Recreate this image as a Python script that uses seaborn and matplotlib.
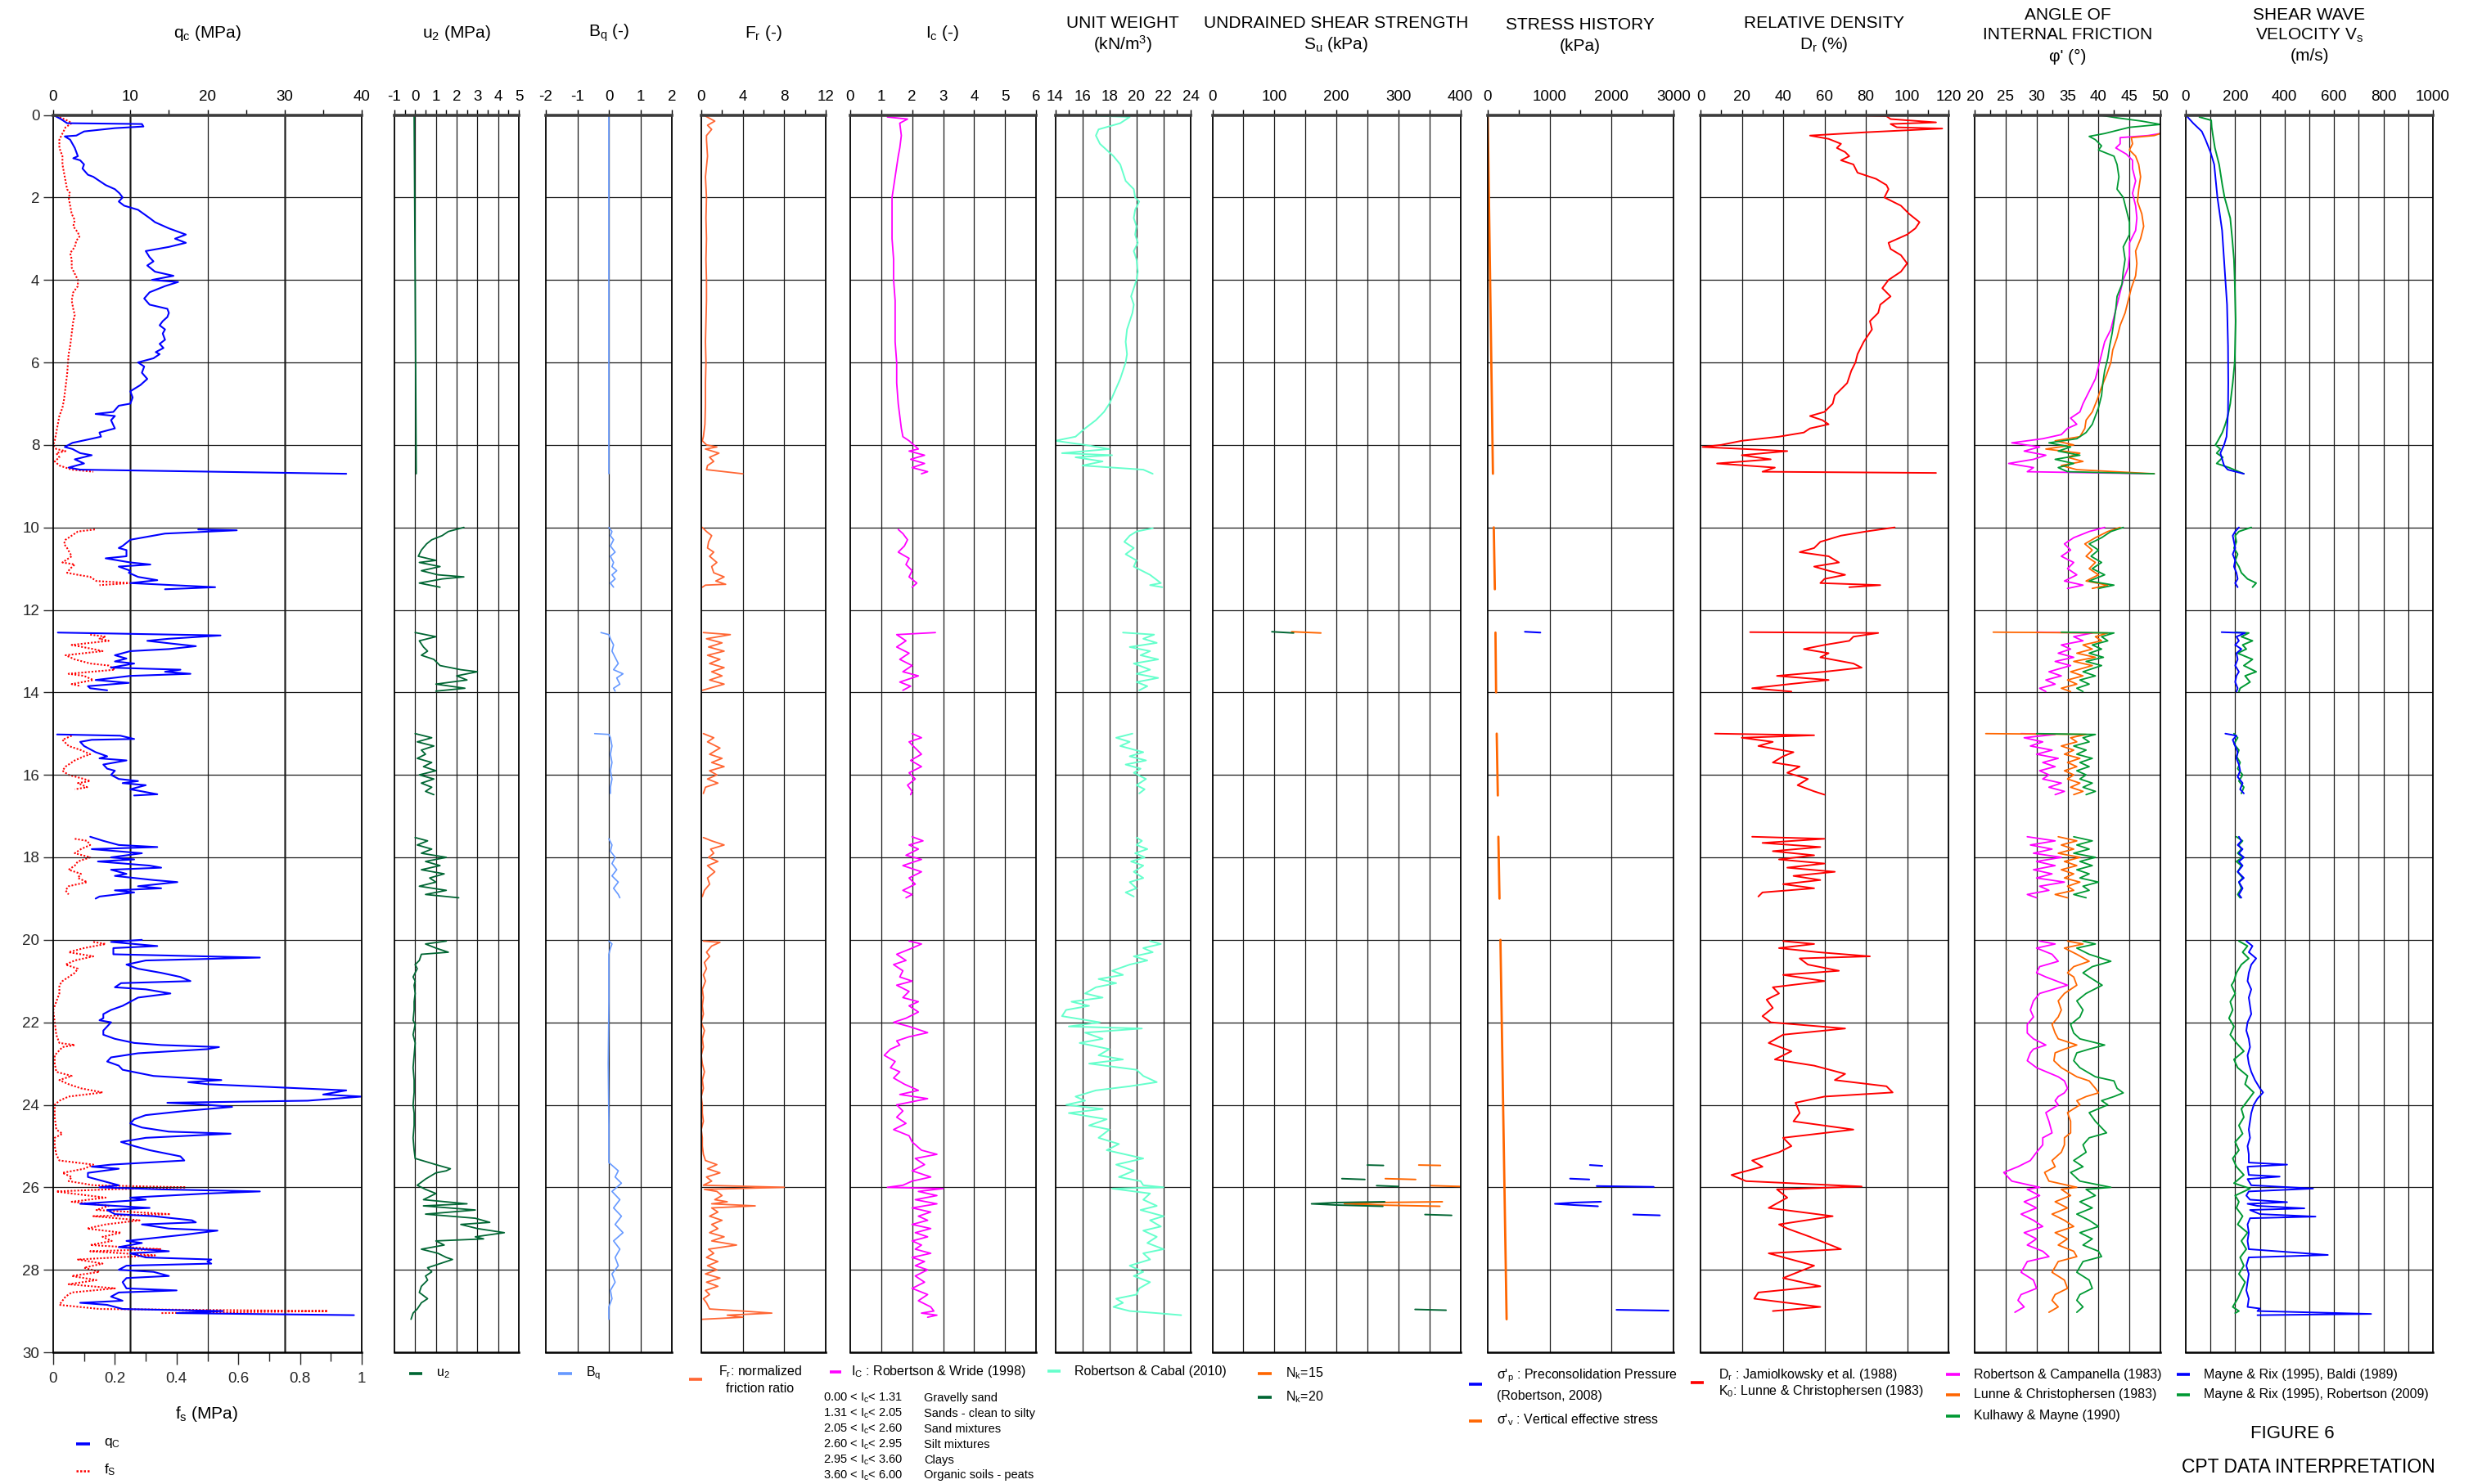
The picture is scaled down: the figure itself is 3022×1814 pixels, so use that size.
import matplotlib
matplotlib.use("Agg")
import matplotlib.pyplot as plt
from matplotlib.ticker import MultipleLocator
from matplotlib.lines import Line2D
import pandas as pd
import seaborn as sns

# ---------------------------------------------------------------- data
# every series is a list of depth segments, each a list of (depth m, value)

qc_mpa = [
    [(0.0, 0.0), (0.1, 1.0), (0.2, 1.8), (0.22, 11.5), (0.28, 11.7), (0.32, 8.0), (0.4, 4.0), (0.5, 3.0),
     (0.52, 1.5), (0.6, 2.2), (0.8, 2.8), (1.0, 3.2), (1.05, 2.6), (1.1, 3.5), (1.2, 4.0), (1.3, 3.8),
     (1.45, 4.5), (1.5, 5.2), (1.6, 6.0), (1.7, 6.8), (1.8, 8.0), (1.9, 8.6), (2.0, 9.0), (2.1, 8.5),
     (2.2, 9.2), (2.3, 11.0), (2.5, 12.5), (2.6, 13.2), (2.75, 15.0), (2.9, 17.2), (3.0, 15.8), (3.1, 17.2),
     (3.2, 15.0), (3.3, 12.0), (3.45, 12.5), (3.55, 13.0), (3.65, 12.2), (3.8, 13.2), (3.9, 15.6), (4.0, 12.8),
     (4.05, 16.2), (4.15, 14.5), (4.3, 12.5), (4.45, 11.8), (4.6, 12.5), (4.7, 14.8), (4.8, 15.0), (4.9, 14.8),
     (5.0, 14.2), (5.1, 13.8), (5.2, 14.5), (5.3, 14.2), (5.45, 14.5), (5.55, 13.8), (5.65, 14.3), (5.75, 13.3),
     (5.8, 13.8), (5.9, 13.0), (6.0, 11.0), (6.1, 11.8), (6.25, 11.5), (6.4, 12.2), (6.55, 11.3), (6.7, 10.0),
     (6.85, 10.3), (7.0, 10.0), (7.05, 8.5), (7.2, 7.8), (7.25, 5.5), (7.3, 8.0), (7.4, 7.5), (7.6, 8.0),
     (7.7, 6.0), (7.8, 6.2), (7.85, 5.0), (7.95, 2.5), (8.05, 1.5), (8.1, 2.5), (8.2, 3.5), (8.25, 5.0),
     (8.35, 2.8), (8.45, 4.0), (8.55, 2.0), (8.6, 3.5), (8.7, 38.0)],
    [(10.05, 18.8), (10.07, 23.8), (10.12, 18.0), (10.15, 14.5), (10.3, 10.0), (10.45, 9.0), (10.5, 8.5),
     (10.55, 9.5), (10.7, 9.5), (10.75, 6.8), (10.85, 10.0), (10.9, 12.6), (10.95, 8.5), (11.05, 10.0),
     (11.1, 9.8), (11.2, 11.0), (11.28, 13.5), (11.35, 10.0), (11.45, 21.0), (11.5, 14.5)],
    [(12.55, 0.6), (12.62, 21.7), (12.7, 15.0), (12.75, 12.2), (12.82, 15.5), (12.88, 18.5), (12.95, 15.0),
     (13.0, 10.0), (13.1, 8.0), (13.18, 9.5), (13.25, 8.0), (13.3, 10.5), (13.4, 7.5), (13.45, 16.5),
     (13.5, 14.5), (13.55, 17.8), (13.6, 10.0), (13.7, 5.5), (13.77, 9.8), (13.85, 4.5), (13.9, 4.8), (13.95, 7.0)],
    [(15.02, 0.5), (15.05, 8.7), (15.13, 10.5), (15.15, 5.0), (15.2, 3.5), (15.3, 4.0), (15.45, 5.5),
     (15.55, 7.0), (15.6, 6.0), (15.65, 9.5), (15.75, 6.5), (15.85, 7.0), (15.9, 8.0), (16.0, 7.5),
     (16.1, 8.5), (16.15, 11.0), (16.2, 9.0), (16.25, 12.0), (16.35, 10.0), (16.4, 11.5), (16.47, 13.5), (16.5, 10.5)],
    [(17.5, 4.8), (17.6, 6.5), (17.7, 8.5), (17.75, 13.5), (17.8, 5.0), (17.9, 11.5), (18.0, 7.5), (18.05, 10.5),
     (18.1, 5.8), (18.2, 12.5), (18.25, 14.0), (18.3, 7.5), (18.4, 9.5), (18.45, 8.0), (18.55, 13.0), (18.6, 16.1),
     (18.7, 11.0), (18.75, 14.0), (18.8, 8.0), (18.85, 10.5), (18.95, 6.0), (19.0, 5.5)],
    [(20.0, 11.5), (20.05, 7.5), (20.15, 13.5), (20.2, 7.8), (20.35, 7.8), (20.43, 26.8), (20.5, 12.0),
     (20.6, 9.5), (20.7, 11.0), (20.8, 14.0), (20.9, 16.5), (21.0, 17.8), (21.05, 8.8), (21.15, 8.0),
     (21.2, 12.0), (21.3, 15.2), (21.4, 11.0), (21.5, 10.0), (21.6, 9.0), (21.7, 7.5), (21.8, 6.5), (21.9, 6.5),
     (21.95, 6.0), (22.0, 7.5), (22.1, 7.0), (22.2, 6.5), (22.3, 6.5), (22.4, 8.0), (22.5, 10.5), (22.55, 14.0),
     (22.6, 21.5), (22.65, 20.0), (22.75, 11.0), (22.85, 7.5), (22.95, 7.0), (23.05, 8.5), (23.15, 9.0),
     (23.3, 13.0), (23.4, 21.8), (23.45, 17.5), (23.5, 20.0), (23.6, 32.0), (23.65, 38.0), (23.75, 35.0),
     (23.8, 40.0), (23.9, 33.0), (23.95, 14.8), (24.0, 20.0), (24.05, 23.2), (24.15, 17.0), (24.25, 12.0),
     (24.35, 10.5), (24.45, 10.0), (24.55, 11.5), (24.65, 15.0), (24.7, 23.0), (24.8, 12.0), (24.9, 8.8),
     (25.0, 10.5), (25.1, 12.5), (25.25, 16.5), (25.35, 17.0), (25.45, 7.5), (25.5, 5.0), (25.55, 8.5),
     (25.65, 4.5), (25.75, 4.5), (25.85, 6.5), (25.95, 8.5), (26.0, 6.0), (26.05, 14.0), (26.1, 26.8),
     (26.15, 20.0), (26.25, 10.0), (26.3, 12.0), (26.4, 3.5), (26.5, 12.5), (26.55, 7.0), (26.65, 8.0),
     (26.7, 13.0), (26.8, 18.0), (26.85, 18.5), (26.9, 11.5), (27.0, 15.0), (27.05, 21.3), (27.15, 17.0),
     (27.3, 9.5), (27.35, 11.5), (27.45, 8.5), (27.55, 15.0), (27.6, 10.0), (27.7, 12.0), (27.75, 20.5),
     (27.8, 20.0), (27.85, 20.5), (27.9, 9.5), (28.0, 8.5), (28.05, 13.0), (28.15, 15.0), (28.2, 9.5),
     (28.3, 9.0), (28.45, 9.5), (28.5, 16.0), (28.55, 8.5), (28.65, 7.5), (28.75, 9.0), (28.8, 3.5),
     (28.85, 7.0), (28.95, 9.0), (29.0, 22.0), (29.05, 16.0), (29.1, 39.0)],
]

fs_mpa = [
    [(0.0, 0.0), (0.05, 0.02), (0.15, 0.05), (0.2, 0.06), (0.3, 0.04), (0.45, 0.03), (0.6, 0.02), (0.8, 0.02),
     (1.0, 0.03), (1.2, 0.03), (1.4, 0.035), (1.6, 0.04), (1.8, 0.045), (1.9, 0.055), (2.0, 0.05), (2.2, 0.055),
     (2.4, 0.06), (2.55, 0.07), (2.7, 0.065), (2.85, 0.08), (2.95, 0.085), (3.05, 0.075), (3.2, 0.07),
     (3.35, 0.055), (3.5, 0.06), (3.7, 0.06), (3.85, 0.07), (4.0, 0.08), (4.15, 0.08), (4.3, 0.065), (4.5, 0.06),
     (4.7, 0.065), (4.85, 0.07), (5.0, 0.065), (5.3, 0.06), (5.6, 0.055), (5.8, 0.05), (6.0, 0.048),
     (6.3, 0.045), (6.6, 0.04), (6.9, 0.035), (7.1, 0.03), (7.3, 0.02), (7.5, 0.015), (7.7, 0.01), (7.9, 0.005),
     (8.0, 0.0), (8.1, 0.01), (8.15, 0.04), (8.2, 0.01), (8.3, 0.02), (8.4, 0.005), (8.5, 0.02), (8.6, 0.06),
     (8.65, 0.13)],
    [(10.05, 0.135), (10.1, 0.08), (10.2, 0.06), (10.3, 0.04), (10.4, 0.035), (10.5, 0.045), (10.7, 0.06),
     (10.85, 0.03), (10.9, 0.07), (11.0, 0.055), (11.1, 0.045), (11.15, 0.08), (11.2, 0.12), (11.3, 0.14),
     (11.35, 0.25), (11.4, 0.15)],
    [(12.6, 0.12), (12.65, 0.17), (12.7, 0.15), (12.75, 0.18), (12.85, 0.06), (12.95, 0.13), (13.0, 0.16),
     (13.1, 0.04), (13.2, 0.07), (13.3, 0.12), (13.35, 0.18), (13.45, 0.20), (13.55, 0.05), (13.6, 0.10),
     (13.7, 0.13), (13.8, 0.06), (13.85, 0.09)],
    [(15.05, 0.06), (15.15, 0.03), (15.3, 0.05), (15.4, 0.09), (15.5, 0.12), (15.55, 0.10), (15.65, 0.07),
     (15.8, 0.04), (15.9, 0.03), (16.0, 0.05), (16.1, 0.10), (16.15, 0.12), (16.2, 0.08), (16.3, 0.11), (16.35, 0.07)],
    [(17.55, 0.07), (17.6, 0.11), (17.7, 0.12), (17.8, 0.09), (17.9, 0.07), (18.0, 0.12), (18.1, 0.08),
     (18.2, 0.07), (18.3, 0.05), (18.4, 0.09), (18.5, 0.08), (18.6, 0.11), (18.7, 0.05), (18.8, 0.04), (18.9, 0.05)],
    [(20.05, 0.13), (20.1, 0.17), (20.2, 0.10), (20.3, 0.05), (20.4, 0.13), (20.5, 0.07), (20.6, 0.04),
     (20.7, 0.08), (20.8, 0.07), (21.0, 0.03), (21.1, 0.02), (21.3, 0.02), (21.5, 0.01), (21.7, 0.0),
     (22.0, 0.005), (22.3, 0.01), (22.5, 0.02), (22.55, 0.07), (22.6, 0.03), (22.8, 0.005), (23.0, 0.005),
     (23.2, 0.01), (23.3, 0.06), (23.4, 0.02), (23.5, 0.05), (23.6, 0.09), (23.7, 0.16), (23.8, 0.05),
     (23.9, 0.02), (24.0, 0.005), (24.3, 0.005), (24.6, 0.01), (24.7, 0.03), (24.8, 0.005), (25.0, 0.005),
     (25.2, 0.01), (25.35, 0.02), (25.45, 0.13), (25.55, 0.10), (25.65, 0.03), (25.75, 0.06), (25.85, 0.05),
     (25.95, 0.13), (26.0, 0.43), (26.05, 0.18), (26.1, 0.01), (26.15, 0.06), (26.25, 0.17), (26.35, 0.06),
     (26.45, 0.18), (26.55, 0.14), (26.65, 0.38), (26.7, 0.13), (26.8, 0.28), (26.9, 0.17), (27.0, 0.11),
     (27.1, 0.22), (27.2, 0.16), (27.3, 0.19), (27.4, 0.12), (27.5, 0.35), (27.55, 0.12), (27.65, 0.33),
     (27.75, 0.08), (27.85, 0.16), (27.95, 0.10), (28.05, 0.15), (28.15, 0.06), (28.25, 0.14), (28.35, 0.05),
     (28.45, 0.20), (28.55, 0.06), (28.65, 0.04), (28.75, 0.03), (28.85, 0.02), (28.95, 0.15), (29.0, 0.89),
     (29.05, 0.35)],
]

u2_mpa = [
    [(0.0, -0.05), (4.0, 0.0), (8.7, 0.05)],
    [(10.0, 2.35), (10.1, 1.6), (10.2, 1.3), (10.3, 0.8), (10.4, 0.55), (10.55, 0.3), (10.7, 0.15), (10.8, 1.0),
     (10.85, 0.2), (10.95, 1.2), (11.05, 0.3), (11.15, 1.1), (11.2, 2.35), (11.25, 1.3), (11.35, 0.2), (11.45, 1.2)],
    [(12.55, 0.0), (12.65, 1.0), (12.75, 0.2), (12.9, 0.4), (13.0, 0.6), (13.1, 0.3), (13.2, 0.9), (13.35, 1.2),
     (13.45, 2.2), (13.5, 3.0), (13.6, 2.0), (13.7, 2.5), (13.8, 1.0), (13.9, 2.4), (13.97, 1.0)],
    [(15.0, 0.0), (15.1, 0.8), (15.2, 0.1), (15.3, 0.9), (15.4, 0.3), (15.5, 0.5), (15.6, 0.1), (15.7, 0.8),
     (15.8, 0.4), (15.9, 1.0), (16.0, 0.2), (16.1, 0.9), (16.2, 0.3), (16.3, 0.8), (16.4, 0.5), (16.48, 0.9)],
    [(17.52, 0.0), (17.6, 0.6), (17.7, 0.1), (17.8, 0.8), (17.9, 0.3), (18.0, 1.5), (18.1, 0.5), (18.2, 1.2),
     (18.3, 0.3), (18.4, 1.4), (18.5, 0.7), (18.6, 1.0), (18.7, 0.2), (18.8, 1.5), (18.9, 0.5), (18.98, 2.1)],
    [(20.03, 1.5), (20.1, 0.5), (20.2, 1.0), (20.3, 1.6), (20.35, 0.3), (20.5, 0.2), (20.6, 0.0), (20.7, 0.1),
     (20.9, -0.1), (21.0, 0.0), (21.1, -0.05), (21.3, 0.0), (21.5, -0.05), (21.7, -0.05), (21.95, -0.1),
     (22.05, 0.0), (22.3, -0.1), (22.5, 0.0), (22.8, -0.05), (23.1, -0.1), (23.4, -0.05), (23.7, -0.05),
     (24.0, -0.1), (24.2, -0.05), (24.5, -0.05), (24.8, -0.1), (25.1, -0.05), (25.3, 0.0), (25.45, 1.0),
     (25.55, 1.7), (25.6, 1.5), (25.65, 1.0), (25.8, 0.5), (25.95, 0.1), (26.05, 0.5), (26.15, 1.0),
     (26.3, 0.4), (26.4, 2.5), (26.45, 0.4), (26.55, 2.9), (26.65, 0.5), (26.75, 2.9), (26.85, 3.6),
     (26.9, 2.2), (27.0, 3.0), (27.1, 4.3), (27.2, 2.9), (27.25, 3.3), (27.3, 1.0), (27.4, 1.4), (27.5, 0.3),
     (27.6, 1.1), (27.7, 1.5), (27.75, 1.8), (27.85, 1.2), (27.95, 0.6), (28.05, 0.8), (28.15, 0.5),
     (28.25, 0.6), (28.4, 0.3), (28.55, 0.2), (28.7, 0.6), (28.8, 0.3), (28.95, 0.1), (29.05, -0.1), (29.2, -0.2)],
]

bq = [
    [(0.0, 0.0), (8.7, 0.0)],
    [(10.0, 0.0), (10.1, 0.1), (10.2, 0.05), (10.3, 0.15), (10.45, 0.05), (10.6, 0.2), (10.7, 0.05),
     (10.85, 0.15), (10.95, 0.1), (11.05, 0.25), (11.15, 0.1), (11.25, 0.2), (11.35, 0.05), (11.45, 0.15)],
    [(12.55, -0.25), (12.6, 0.0), (12.7, 0.05), (12.85, 0.15), (13.0, 0.1), (13.15, 0.2), (13.3, 0.3),
     (13.45, 0.15), (13.55, 0.45), (13.65, 0.25), (13.8, 0.35), (13.9, 0.15), (13.97, 0.2)],
    [(15.0, -0.45), (15.02, 0.0), (15.1, 0.05), (15.3, 0.1), (15.5, 0.05), (15.7, 0.1), (15.9, 0.05),
     (16.1, 0.1), (16.3, 0.05), (16.45, 0.05)],
    [(17.55, 0.0), (17.7, 0.1), (17.85, 0.05), (18.0, 0.2), (18.15, 0.1), (18.3, 0.25), (18.45, 0.1),
     (18.6, 0.3), (18.75, 0.15), (18.9, 0.3), (18.98, 0.35)],
    [(20.03, 0.0), (20.1, 0.1), (20.2, 0.05), (20.35, 0.0), (21.5, 0.0), (23.0, -0.02), (24.5, 0.0),
     (25.4, 0.0), (25.5, 0.15), (25.6, 0.3), (25.75, 0.2), (25.9, 0.4), (26.1, 0.1), (26.3, 0.35),
     (26.5, 0.15), (26.7, 0.4), (26.9, 0.2), (27.1, 0.45), (27.3, 0.15), (27.5, 0.35), (27.7, 0.2),
     (27.9, 0.3), (28.1, 0.1), (28.3, 0.2), (28.5, 0.05), (28.7, 0.1), (28.9, 0.0), (29.2, 0.0)],
]

fr = [
    [(0.0, 0.2), (0.15, 1.3), (0.25, 0.6), (0.35, 1.0), (0.5, 0.5), (0.6, 0.5), (1.0, 0.6), (1.5, 0.4),
     (2.0, 0.5), (2.5, 0.45), (3.0, 0.5), (3.5, 0.45), (4.0, 0.5), (4.5, 0.5), (5.0, 0.45), (5.5, 0.4),
     (6.0, 0.45), (6.5, 0.4), (7.0, 0.4), (7.5, 0.35), (7.8, 0.2), (7.9, 0.1), (8.0, 0.5), (8.05, 1.5),
     (8.1, 0.4), (8.2, 1.7), (8.3, 0.8), (8.4, 1.2), (8.5, 0.6), (8.6, 0.5), (8.7, 4.0)],
    [(10.0, 0.1), (10.1, 0.5), (10.2, 1.0), (10.35, 0.7), (10.5, 0.6), (10.6, 1.2), (10.7, 0.8), (10.85, 1.5),
     (10.95, 1.0), (11.1, 1.2), (11.2, 2.2), (11.3, 1.4), (11.38, 2.35), (11.4, 0.4), (11.45, 0.1)],
    [(12.55, 0.2), (12.6, 2.8), (12.7, 0.5), (12.8, 2.0), (12.9, 0.7), (13.0, 2.2), (13.1, 0.6), (13.2, 1.8),
     (13.3, 0.8), (13.4, 2.2), (13.5, 1.0), (13.6, 2.0), (13.7, 0.8), (13.8, 2.2), (13.95, 0.1)],
    [(15.0, 0.2), (15.1, 1.2), (15.2, 0.6), (15.35, 1.8), (15.5, 0.8), (15.6, 2.0), (15.7, 1.0), (15.8, 2.2),
     (15.9, 0.8), (16.0, 1.5), (16.1, 0.6), (16.2, 1.6), (16.3, 0.4), (16.45, 0.2)],
    [(17.52, 0.2), (17.6, 1.0), (17.7, 2.2), (17.8, 0.9), (17.9, 1.2), (18.0, 0.7), (18.1, 1.6), (18.2, 0.6),
     (18.35, 1.3), (18.5, 0.6), (18.65, 0.8), (18.8, 0.3), (18.95, 0.1)],
    [(20.03, 0.2), (20.06, 1.8), (20.15, 1.0), (20.3, 0.5), (20.4, 0.8), (20.55, 0.3), (20.7, 0.5),
     (20.85, 0.2), (21.0, 0.4), (21.2, 0.1), (21.4, 0.2), (21.6, 0.1), (21.8, 0.2), (22.0, 0.0), (22.2, 0.3),
     (22.4, 0.1), (22.6, 0.2), (22.8, 0.0), (23.0, 0.1), (23.2, 0.3), (23.4, 0.1), (23.6, 0.2), (23.8, 0.0),
     (24.0, 0.1), (24.2, 0.1), (24.4, 0.2), (24.6, 0.0), (24.8, 0.1), (25.0, 0.1), (25.2, 0.2), (25.35, 0.4),
     (25.45, 1.5), (25.55, 0.6), (25.65, 1.8), (25.75, 0.5), (25.85, 1.0), (25.95, 0.2), (26.0, 8.0),
     (26.05, 0.3), (26.1, 1.5), (26.2, 2.0), (26.3, 1.3), (26.35, 2.5), (26.4, 1.0), (26.45, 5.2), (26.5, 1.0),
     (26.6, 1.6), (26.7, 0.8), (26.8, 2.0), (26.9, 1.0), (27.0, 1.6), (27.1, 0.8), (27.2, 2.2), (27.3, 1.0),
     (27.4, 3.4), (27.5, 0.7), (27.6, 1.2), (27.7, 0.5), (27.8, 1.6), (27.9, 0.6), (28.0, 1.5), (28.1, 0.4),
     (28.2, 1.8), (28.3, 0.5), (28.4, 1.6), (28.5, 0.4), (28.6, 0.8), (28.7, 0.2), (28.8, 0.5), (28.95, 0.8),
     (29.0, 4.0), (29.05, 6.8), (29.1, 2.5), (29.15, 4.0), (29.2, 0.1)],
]

ic = [
    [(0.05, 1.2), (0.1, 1.85), (0.2, 1.6), (0.5, 1.65), (0.8, 1.6), (1.0, 1.55), (1.5, 1.45), (2.0, 1.35),
     (2.5, 1.35), (3.0, 1.35), (3.5, 1.4), (4.0, 1.4), (4.5, 1.45), (5.0, 1.45), (5.5, 1.45), (6.0, 1.5),
     (6.5, 1.5), (7.0, 1.55), (7.3, 1.6), (7.6, 1.65), (7.8, 1.7), (7.9, 1.9), (8.0, 2.05), (8.1, 2.2),
     (8.15, 1.9), (8.25, 2.4), (8.35, 1.95), (8.45, 2.4), (8.55, 2.0), (8.65, 2.5), (8.7, 2.3)],
    [(10.05, 1.55), (10.15, 1.7), (10.3, 1.85), (10.45, 1.75), (10.6, 1.55), (10.75, 1.9), (10.9, 1.8),
     (11.05, 2.0), (11.2, 1.9), (11.35, 2.15), (11.45, 2.0)],
    [(12.55, 2.75), (12.6, 1.5), (12.75, 1.8), (12.9, 1.5), (13.05, 1.9), (13.2, 1.6), (13.35, 2.0),
     (13.5, 1.7), (13.6, 2.2), (13.75, 1.6), (13.85, 1.95), (13.95, 1.7)],
    [(15.0, 2.0), (15.1, 2.3), (15.2, 1.9), (15.35, 2.1), (15.5, 2.3), (15.65, 1.95), (15.8, 2.3),
     (15.95, 1.9), (16.1, 2.1), (16.25, 1.85), (16.4, 2.0), (16.48, 1.95)],
    [(17.5, 2.0), (17.6, 2.35), (17.7, 1.9), (17.8, 2.2), (17.95, 1.8), (18.05, 2.3), (18.2, 1.7),
     (18.35, 2.3), (18.5, 1.9), (18.65, 2.1), (18.8, 1.7), (18.9, 2.0), (18.98, 1.8)],
    [(20.03, 1.9), (20.1, 2.3), (20.2, 2.0), (20.35, 1.5), (20.5, 1.8), (20.6, 1.4), (20.75, 1.7), (20.9, 1.6),
     (21.0, 2.0), (21.1, 1.5), (21.25, 1.9), (21.4, 1.7), (21.5, 2.2), (21.6, 1.9), (21.75, 2.2), (21.9, 1.8),
     (22.0, 1.4), (22.1, 1.9), (22.25, 2.5), (22.35, 1.9), (22.45, 1.5), (22.55, 1.6), (22.65, 1.3),
     (22.8, 1.1), (22.95, 1.45), (23.1, 1.3), (23.2, 1.6), (23.35, 1.4), (23.5, 1.75), (23.65, 2.2),
     (23.75, 1.6), (23.85, 2.5), (24.0, 1.5), (24.15, 1.7), (24.3, 1.5), (24.45, 1.8), (24.6, 1.4),
     (24.75, 1.9), (24.9, 2.0), (25.1, 2.3), (25.2, 2.8), (25.3, 2.1), (25.45, 2.4), (25.6, 2.0), (25.75, 2.6),
     (25.85, 2.0), (25.95, 1.7), (26.0, 1.2), (26.03, 3.0), (26.1, 2.2), (26.2, 2.8), (26.3, 2.1), (26.4, 2.8),
     (26.5, 2.0), (26.6, 2.6), (26.7, 2.2), (26.8, 2.5), (26.9, 2.0), (27.0, 2.6), (27.1, 2.1), (27.2, 2.5),
     (27.3, 2.0), (27.4, 2.3), (27.5, 2.1), (27.6, 2.6), (27.7, 2.0), (27.8, 2.4), (27.9, 2.1), (28.0, 2.5),
     (28.15, 2.1), (28.3, 2.4), (28.45, 2.0), (28.6, 2.5), (28.75, 2.2), (28.9, 2.6), (29.0, 2.7),
     (29.05, 2.3), (29.1, 2.8), (29.15, 2.5)],
]

unit_weight = [
    [(0.0, 15.5), (0.05, 19.5), (0.2, 18.8), (0.35, 17.2), (0.5, 17.0), (0.7, 17.3), (0.85, 17.8), (1.0, 18.3),
     (1.2, 18.8), (1.4, 19.0), (1.6, 19.2), (1.8, 19.8), (2.0, 19.9), (2.1, 20.2), (2.3, 19.9), (2.5, 19.8),
     (2.7, 20.0), (2.9, 19.9), (3.1, 20.1), (3.3, 19.8), (3.5, 20.0), (3.8, 20.1), (4.0, 20.0), (4.2, 19.8),
     (4.4, 19.6), (4.6, 19.8), (4.8, 19.7), (5.0, 19.5), (5.2, 19.3), (5.5, 19.2), (5.8, 19.3), (6.0, 19.2),
     (6.2, 19.0), (6.4, 18.8), (6.7, 18.4), (7.0, 18.0), (7.2, 17.6), (7.4, 17.0), (7.6, 16.2), (7.8, 15.5),
     (7.9, 14.0), (8.0, 16.2), (8.1, 18.0), (8.2, 14.5), (8.25, 18.2), (8.3, 15.5), (8.4, 17.5), (8.5, 16.0),
     (8.6, 20.5), (8.7, 21.2)],
    [(10.02, 21.2), (10.1, 20.0), (10.2, 19.5), (10.35, 19.1), (10.5, 19.8), (10.65, 19.2), (10.8, 20.0),
     (10.95, 19.8), (11.05, 20.4), (11.15, 21.0), (11.25, 21.4), (11.35, 21.8), (11.4, 21.0), (11.45, 21.9)],
    [(12.55, 19.0), (12.6, 21.3), (12.7, 20.5), (12.8, 21.5), (12.9, 19.5), (13.0, 21.0), (13.1, 20.3),
     (13.2, 21.6), (13.3, 19.8), (13.45, 21.0), (13.55, 20.0), (13.65, 21.6), (13.75, 20.0), (13.85, 20.8),
     (13.95, 20.2)],
    [(15.0, 19.7), (15.1, 18.5), (15.2, 19.5), (15.3, 18.8), (15.45, 20.5), (15.55, 19.5), (15.65, 20.7),
     (15.75, 19.2), (15.85, 20.3), (15.95, 19.8), (16.1, 20.7), (16.25, 20.0), (16.35, 20.6), (16.45, 20.2)],
    [(17.52, 20.0), (17.6, 20.4), (17.7, 20.0), (17.8, 20.8), (17.9, 19.9), (18.0, 20.6), (18.1, 19.6),
     (18.2, 20.5), (18.35, 19.8), (18.5, 20.5), (18.6, 19.5), (18.75, 20.0), (18.85, 19.2), (18.95, 19.8)],
    [(20.03, 21.0), (20.1, 21.8), (20.2, 20.5), (20.3, 21.2), (20.4, 19.8), (20.5, 20.8), (20.6, 19.5),
     (20.75, 18.2), (20.85, 19.0), (20.95, 17.2), (21.05, 18.5), (21.15, 17.0), (21.3, 16.2), (21.4, 17.5),
     (21.5, 15.2), (21.6, 16.5), (21.7, 14.8), (21.85, 14.5), (22.0, 17.3), (22.1, 15.0), (22.15, 20.4),
     (22.25, 16.2), (22.4, 17.5), (22.5, 15.8), (22.65, 18.0), (22.8, 17.2), (22.9, 19.0), (23.0, 16.5),
     (23.15, 20.0), (23.3, 20.5), (23.45, 21.5), (23.55, 19.5), (23.65, 17.0), (23.8, 15.5), (23.9, 16.2),
     (24.0, 14.8), (24.1, 17.5), (24.2, 15.0), (24.35, 17.8), (24.5, 16.5), (24.6, 18.0), (24.8, 17.2),
     (24.95, 18.7), (25.1, 17.8), (25.3, 20.5), (25.45, 18.5), (25.6, 19.8), (25.75, 18.7), (25.85, 20.3),
     (25.95, 20.5), (26.0, 22.0), (26.03, 18.2), (26.15, 21.0), (26.3, 20.5), (26.45, 21.5), (26.55, 20.3),
     (26.7, 22.0), (26.8, 21.0), (26.95, 21.8), (27.05, 20.5), (27.2, 21.5), (27.35, 20.8), (27.5, 22.0),
     (27.6, 20.5), (27.75, 21.0), (27.9, 19.5), (28.05, 20.5), (28.15, 19.8), (28.3, 21.0), (28.45, 20.2),
     (28.6, 20.0), (28.7, 18.5), (28.8, 19.0), (28.9, 18.3), (29.0, 19.5), (29.05, 21.5), (29.1, 23.3)],
]

su_nk20 = [
    [(12.53, 96), (12.56, 131)],
    [(25.46, 250), (25.47, 276)],
    [(25.79, 209), (25.81, 246)],
    [(25.96, 265), (25.98, 300)],
    [(26.35, 278), (26.37, 200), (26.40, 160), (26.43, 200), (26.46, 275)],
    [(26.66, 343), (26.68, 386)],
    [(28.96, 327), (28.98, 377)],
]

su_nk15 = [
    [(12.53, 128), (12.56, 175)],
    [(25.46, 333), (25.47, 368)],
    [(25.79, 279), (25.81, 328)],
    [(25.96, 353), (25.98, 400)],
    [(26.35, 371), (26.37, 267), (26.40, 213), (26.43, 267), (26.46, 367)],
]

sigma_v = [
    [(0.0, 0), (8.7, 84)],
    [(10.0, 98), (11.5, 115)],
    [(12.55, 125), (14.0, 135)],
    [(15.0, 145), (16.5, 163)],
    [(17.5, 172), (19.0, 190)],
    [(20.0, 205), (29.2, 305)],
]

sigma_p = [
    [(12.53, 600), (12.55, 850)],
    [(25.46, 1650), (25.48, 1850)],
    [(25.79, 1330), (25.81, 1640)],
    [(25.97, 1760), (25.99, 2680)],
    [(26.35, 1830), (26.37, 1400), (26.40, 1085), (26.43, 1400), (26.46, 1780)],
    [(26.66, 2350), (26.68, 2780)],
    [(28.97, 2080), (28.99, 2920)],
]

dr = [
    [(0.0, 70), (0.03, 90), (0.1, 92), (0.18, 114), (0.22, 92), (0.3, 95), (0.33, 117), (0.42, 80), (0.5, 53),
     (0.58, 62), (0.7, 68), (0.8, 66), (0.9, 70), (1.0, 72), (1.1, 68), (1.2, 74), (1.4, 76), (1.55, 85),
     (1.7, 90), (1.8, 91), (2.0, 89), (2.2, 97), (2.4, 101), (2.6, 106), (2.75, 104), (2.9, 100), (3.1, 91),
     (3.25, 92), (3.4, 97), (3.6, 100), (3.8, 97), (4.0, 91), (4.2, 88), (4.4, 92), (4.6, 87), (4.8, 86),
     (5.0, 82), (5.2, 83), (5.5, 79), (5.8, 76), (6.0, 75), (6.2, 73), (6.5, 71), (6.8, 65), (7.0, 64),
     (7.2, 60), (7.3, 53), (7.4, 59), (7.5, 62), (7.6, 53), (7.7, 50), (7.8, 38), (7.9, 20), (8.0, 10),
     (8.05, 1), (8.15, 42), (8.25, 20), (8.35, 34), (8.45, 8), (8.55, 36), (8.65, 30), (8.68, 114)],
    [(10.0, 94), (10.1, 80), (10.2, 68), (10.35, 58), (10.5, 55), (10.6, 48), (10.7, 62), (10.85, 67),
     (10.95, 55), (11.05, 62), (11.15, 70), (11.25, 60), (11.35, 58), (11.4, 87), (11.45, 72)],
    [(12.54, 24), (12.56, 86), (12.65, 74), (12.75, 72), (12.85, 60), (12.95, 50), (13.05, 62), (13.15, 58),
     (13.3, 74), (13.4, 78), (13.5, 60), (13.6, 37), (13.7, 62), (13.8, 43), (13.9, 25), (13.98, 44)],
    [(15.0, 7), (15.04, 55), (15.1, 20), (15.2, 35), (15.3, 28), (15.45, 45), (15.55, 40), (15.7, 35),
     (15.8, 48), (15.95, 42), (16.1, 52), (16.25, 47), (16.4, 55), (16.48, 60)],
    [(17.5, 25), (17.55, 60), (17.65, 30), (17.75, 58), (17.85, 35), (17.95, 55), (18.05, 38), (18.15, 60),
     (18.25, 42), (18.35, 65), (18.45, 45), (18.55, 58), (18.65, 40), (18.75, 55), (18.85, 30), (18.95, 28)],
    [(20.03, 40), (20.1, 55), (20.2, 38), (20.3, 57), (20.4, 82), (20.45, 48), (20.6, 52), (20.75, 67),
     (20.85, 40), (21.0, 60), (21.15, 35), (21.3, 38), (21.45, 32), (21.65, 35), (21.85, 30), (22.0, 34),
     (22.15, 70), (22.3, 40), (22.5, 33), (22.7, 44), (22.9, 36), (23.05, 55), (23.25, 70), (23.4, 65),
     (23.55, 90), (23.7, 93), (23.8, 60), (23.95, 46), (24.2, 48), (24.4, 45), (24.6, 74), (24.8, 40),
     (25.0, 44), (25.15, 38), (25.35, 25), (25.5, 30), (25.7, 15), (25.85, 22), (25.98, 78), (26.05, 37),
     (26.25, 42), (26.5, 33), (26.7, 64), (26.9, 38), (27.0, 42), (27.2, 53), (27.5, 68), (27.6, 33),
     (27.9, 55), (28.2, 40), (28.4, 58), (28.55, 28), (28.7, 26), (28.9, 58), (29.0, 35)],
]

phi_kulhawy = [
    [(0.0, 40.0), (0.07, 43.0), (0.15, 47.0), (0.23, 50.0), (0.3, 45.0), (0.45, 41.0), (0.52, 38.5),
     (0.6, 39.5), (0.75, 40.5), (0.85, 40.0), (1.0, 42.5), (1.2, 43.0), (1.5, 43.3), (1.8, 43.0), (2.0, 44.0),
     (2.3, 44.5), (2.6, 45.0), (2.9, 45.0), (3.2, 44.0), (3.5, 44.3), (3.8, 44.0), (4.1, 43.8), (4.4, 43.0),
     (4.7, 42.8), (5.0, 42.5), (5.3, 42.2), (5.6, 41.8), (5.9, 41.5), (6.2, 41.0), (6.5, 40.7), (6.8, 40.5),
     (7.1, 40.0), (7.3, 39.5), (7.5, 39.0), (7.7, 38.0), (7.85, 36.5), (7.95, 32.0), (8.05, 35.5),
     (8.15, 33.5), (8.25, 37.0), (8.35, 33.0), (8.45, 36.0), (8.55, 33.5), (8.65, 35.0), (8.7, 49.0)],
    [(10.0, 44.0), (10.1, 42.0), (10.25, 40.5), (10.4, 38.5), (10.55, 40.0), (10.7, 38.8), (10.85, 40.5),
     (11.0, 39.0), (11.15, 41.0), (11.3, 38.5), (11.4, 42.5), (11.48, 40.0)],
    [(12.54, 34.0), (12.56, 42.5), (12.65, 40.5), (12.75, 41.5), (12.85, 39.0), (12.95, 40.5), (13.05, 38.5),
     (13.15, 40.8), (13.25, 38.0), (13.35, 40.5), (13.5, 37.5), (13.6, 39.5), (13.7, 37.0), (13.8, 38.5),
     (13.9, 36.5), (13.98, 37.5)],
    [(15.0, 30.0), (15.02, 39.5), (15.1, 37.5), (15.2, 38.5), (15.3, 36.0), (15.4, 38.0), (15.5, 36.5),
     (15.6, 39.0), (15.7, 37.0), (15.8, 38.5), (15.9, 36.5), (16.0, 38.0), (16.1, 37.0), (16.2, 39.0),
     (16.3, 37.5), (16.4, 39.5), (16.48, 38.0)],
    [(17.5, 36.0), (17.6, 39.0), (17.7, 36.5), (17.8, 38.5), (17.9, 36.0), (18.0, 39.5), (18.1, 37.0),
     (18.2, 39.0), (18.3, 36.5), (18.4, 38.5), (18.5, 37.0), (18.6, 40.0), (18.7, 37.5), (18.8, 38.5),
     (18.9, 36.0), (18.98, 38.0)],
    [(20.03, 37.5), (20.1, 39.5), (20.2, 36.5), (20.35, 38.5), (20.52, 42.0), (20.65, 39.0), (20.8, 37.5),
     (20.9, 38.5), (21.1, 40.6), (21.3, 38.0), (21.48, 36.5), (21.7, 37.5), (21.87, 37.0), (22.05, 35.5),
     (22.26, 36.0), (22.4, 37.0), (22.55, 41.0), (22.65, 38.5), (22.74, 36.5), (22.93, 36.0), (23.1, 37.0),
     (23.32, 39.5), (23.42, 42.5), (23.6, 43.0), (23.71, 44.0), (23.8, 42.5), (23.9, 40.5), (24.0, 41.5),
     (24.19, 38.5), (24.4, 39.5), (24.68, 41.3), (24.8, 38.5), (24.97, 37.5), (25.15, 38.0), (25.35, 36.0),
     (25.5, 37.5), (25.64, 35.5), (25.85, 37.0), (26.0, 42.0), (26.05, 38.0), (26.2, 39.5), (26.35, 37.0),
     (26.5, 39.0), (26.65, 36.5), (26.8, 38.5), (26.95, 40.0), (27.1, 37.0), (27.25, 39.0), (27.4, 37.5),
     (27.55, 40.0), (27.68, 40.5), (27.8, 37.5), (28.06, 36.5), (28.25, 38.5), (28.45, 39.0), (28.6, 37.0),
     (28.74, 36.5), (28.9, 37.5), (29.03, 36.5)],
]

phi_lunne = [
    [(0.45, 50.0), (0.5, 49.0), (0.55, 45.3), (0.7, 45.5), (0.85, 45.0), (1.0, 46.0), (1.2, 46.5),
     (1.5, 46.8), (1.8, 46.5), (2.1, 46.3), (2.4, 47.0), (2.7, 47.3), (3.0, 46.8), (3.3, 46.0), (3.6, 46.2),
     (3.9, 46.0), (4.2, 45.3), (4.5, 44.8), (4.8, 44.3), (5.1, 43.5), (5.4, 43.0), (5.7, 42.3), (6.0, 42.0),
     (6.3, 41.3), (6.6, 40.5), (6.9, 39.8), (7.2, 39.0), (7.4, 38.0), (7.6, 37.8), (7.8, 37.0), (7.9, 33.0),
     (8.0, 36.0), (8.1, 31.5), (8.2, 37.0), (8.3, 35.0), (8.4, 37.5), (8.5, 34.0), (8.6, 36.5), (8.7, 49.0)],
    [(10.0, 43.5), (10.1, 41.5), (10.25, 39.5), (10.4, 37.8), (10.55, 39.0), (10.7, 38.0), (10.85, 39.5),
     (11.0, 38.5), (11.15, 40.0), (11.3, 38.0), (11.4, 41.5), (11.48, 39.0)],
    [(12.54, 23.0), (12.56, 41.5), (12.65, 39.5), (12.75, 40.5), (12.85, 37.5), (12.95, 39.0), (13.05, 36.5),
     (13.15, 39.5), (13.25, 36.0), (13.35, 39.0), (13.5, 35.5), (13.6, 37.5), (13.7, 35.0), (13.8, 36.5),
     (13.9, 34.0), (13.98, 35.5)],
    [(15.0, 21.8), (15.02, 38.0), (15.1, 35.5), (15.2, 36.5), (15.3, 34.0), (15.4, 36.0), (15.5, 34.5),
     (15.6, 37.0), (15.7, 35.0), (15.8, 36.5), (15.9, 34.5), (16.0, 36.0), (16.1, 35.0), (16.2, 37.0),
     (16.3, 35.5), (16.4, 37.5), (16.48, 36.0)],
    [(17.5, 33.5), (17.6, 36.5), (17.7, 34.0), (17.8, 36.0), (17.9, 33.5), (18.0, 37.0), (18.1, 34.5),
     (18.2, 36.5), (18.3, 34.0), (18.4, 36.0), (18.5, 34.5), (18.6, 37.0), (18.7, 35.0), (18.8, 36.0),
     (18.9, 33.0), (18.98, 35.0)],
    [(20.03, 35.0), (20.1, 37.5), (20.2, 34.5), (20.35, 36.5), (20.52, 38.5), (20.65, 36.0), (20.8, 35.0),
     (20.9, 36.0), (21.1, 36.5), (21.3, 34.5), (21.48, 33.5), (21.7, 34.0), (21.87, 33.5), (22.05, 32.5),
     (22.26, 33.0), (22.4, 33.5), (22.55, 36.5), (22.65, 34.5), (22.74, 33.0), (22.93, 32.8), (23.1, 34.0),
     (23.32, 36.5), (23.42, 38.5), (23.6, 39.5), (23.71, 40.0), (23.8, 38.0), (23.9, 36.5), (24.0, 37.0),
     (24.19, 35.0), (24.4, 35.5), (24.68, 35.5), (24.8, 34.5), (24.97, 34.5), (25.15, 34.0), (25.35, 32.5),
     (25.5, 33.0), (25.64, 31.3), (25.85, 32.0), (26.0, 36.5), (26.05, 34.0), (26.2, 35.5), (26.35, 33.0),
     (26.5, 35.0), (26.65, 32.5), (26.8, 34.5), (26.95, 36.0), (27.1, 33.0), (27.25, 35.0), (27.4, 33.5),
     (27.55, 36.0), (27.68, 36.5), (27.8, 33.5), (28.06, 32.5), (28.25, 34.5), (28.45, 35.0), (28.6, 33.0),
     (28.74, 32.5), (28.9, 33.5), (29.03, 32.0)],
]

phi_robertson = [
    [(0.45, 50.0), (0.5, 48.0), (0.55, 43.5), (0.7, 43.5), (0.8, 42.8), (0.95, 44.5), (1.1, 45.5),
     (1.3, 45.5), (1.6, 46.0), (1.9, 45.5), (2.2, 46.0), (2.5, 46.2), (2.8, 46.0), (3.1, 45.0), (3.4, 45.0),
     (3.7, 44.8), (4.0, 44.0), (4.3, 43.5), (4.6, 43.0), (4.9, 42.5), (5.2, 42.0), (5.5, 41.0), (5.8, 40.5),
     (6.1, 40.0), (6.4, 39.5), (6.7, 38.5), (7.0, 37.5), (7.2, 37.0), (7.35, 35.5), (7.5, 36.5), (7.6, 35.0),
     (7.75, 34.0), (7.85, 31.0), (7.95, 26.0), (8.05, 30.5), (8.15, 28.0), (8.25, 31.5), (8.35, 29.5),
     (8.45, 25.5), (8.55, 29.5), (8.65, 28.5), (8.7, 49.0)],
    [(10.0, 41.0), (10.1, 38.5), (10.25, 36.0), (10.4, 34.5), (10.55, 35.5), (10.7, 34.0), (10.85, 36.0),
     (11.0, 35.0), (11.15, 36.5), (11.3, 34.5), (11.4, 37.5), (11.48, 35.0)],
    [(12.54, 30.0), (12.56, 39.0), (12.65, 36.0), (12.75, 37.5), (12.85, 34.0), (12.95, 35.5), (13.05, 33.5),
     (13.15, 36.0), (13.25, 33.0), (13.35, 35.5), (13.5, 32.0), (13.6, 34.0), (13.7, 31.5), (13.8, 33.0),
     (13.9, 30.5), (13.98, 31.5)],
    [(15.0, 27.5), (15.02, 33.0), (15.1, 28.0), (15.2, 31.0), (15.3, 29.0), (15.4, 32.5), (15.5, 30.0),
     (15.6, 33.5), (15.7, 31.0), (15.8, 33.0), (15.9, 30.5), (16.0, 32.0), (16.1, 31.0), (16.2, 34.0),
     (16.3, 32.0), (16.4, 34.5), (16.48, 33.0)],
    [(17.5, 28.5), (17.6, 33.0), (17.7, 29.0), (17.8, 32.5), (17.9, 29.5), (18.0, 34.0), (18.1, 30.0),
     (18.2, 33.0), (18.3, 29.5), (18.4, 32.5), (18.5, 30.0), (18.6, 34.5), (18.7, 30.5), (18.8, 32.0),
     (18.9, 28.5), (18.98, 30.0)],
    [(20.03, 30.5), (20.1, 33.0), (20.2, 30.0), (20.35, 32.5), (20.52, 33.5), (20.65, 30.5), (20.8, 30.0),
     (20.9, 31.5), (21.1, 35.0), (21.3, 30.5), (21.48, 29.5), (21.7, 29.0), (21.87, 29.5), (22.05, 28.5),
     (22.26, 28.5), (22.4, 29.5), (22.55, 31.5), (22.65, 29.5), (22.74, 29.0), (22.93, 28.5), (23.1, 30.0),
     (23.32, 33.5), (23.42, 34.5), (23.6, 35.0), (23.71, 34.5), (23.8, 33.5), (23.9, 33.0), (24.0, 33.5),
     (24.19, 31.5), (24.4, 32.0), (24.68, 32.5), (24.8, 31.0), (24.97, 31.0), (25.15, 30.0), (25.35, 29.0),
     (25.5, 27.0), (25.64, 24.7), (25.85, 26.0), (26.0, 30.5), (26.05, 28.5), (26.2, 30.5), (26.35, 28.0),
     (26.5, 30.0), (26.65, 27.5), (26.8, 29.5), (26.95, 31.0), (27.1, 28.0), (27.25, 30.0), (27.4, 28.5),
     (27.55, 31.0), (27.68, 32.0), (27.8, 28.5), (28.06, 27.5), (28.25, 29.5), (28.45, 30.0), (28.6, 27.5),
     (28.74, 27.0), (28.9, 28.0), (29.03, 26.5)],
]

vs_baldi = [
    [(0.0, 0), (0.2, 30), (0.4, 65), (0.6, 80), (0.9, 100), (1.2, 115), (2.0, 128), (2.8, 147), (3.7, 157),
     (4.6, 167), (5.6, 171), (6.5, 172), (7.2, 171), (7.8, 165), (8.0, 155), (8.2, 140), (8.4, 150),
     (8.5, 155), (8.6, 170), (8.7, 235)],
    [(10.0, 215), (10.1, 200), (10.2, 190), (10.35, 195), (10.5, 200), (10.65, 190), (10.8, 200),
     (10.95, 195), (11.1, 205), (11.25, 210), (11.35, 200), (11.45, 210)],
    [(12.54, 145), (12.56, 240), (12.65, 205), (12.75, 215), (12.85, 200), (12.95, 225), (13.05, 205),
     (13.2, 210), (13.35, 200), (13.5, 215), (13.6, 205), (13.75, 200), (13.9, 210), (13.98, 205)],
    [(15.0, 160), (15.05, 205), (15.15, 190), (15.3, 200), (15.45, 210), (15.6, 205), (15.75, 215),
     (15.9, 220), (16.05, 210), (16.2, 230), (16.35, 220), (16.45, 235)],
    [(17.5, 215), (17.6, 225), (17.7, 210), (17.8, 230), (17.9, 215), (18.0, 235), (18.1, 215), (18.2, 230),
     (18.35, 210), (18.5, 235), (18.6, 215), (18.75, 230), (18.9, 215), (18.98, 225)],
    [(20.03, 245), (20.15, 270), (20.3, 255), (20.45, 285), (20.6, 265), (20.8, 255), (21.0, 250), (21.2, 265),
     (21.4, 255), (21.6, 260), (21.8, 265), (22.0, 250), (22.2, 245), (22.4, 255), (22.6, 260), (22.8, 250),
     (23.0, 255), (23.2, 265), (23.4, 280), (23.6, 300), (23.7, 313), (23.85, 290), (24.0, 275), (24.2, 265),
     (24.4, 260), (24.6, 255), (24.8, 260), (25.0, 250), (25.2, 255), (25.4, 255), (25.45, 410), (25.5, 250),
     (25.7, 255), (25.74, 380), (25.8, 250), (25.95, 265), (26.03, 515), (26.1, 255), (26.2, 245),
     (26.3, 260), (26.36, 410), (26.4, 250), (26.45, 290), (26.51, 480), (26.55, 260), (26.65, 300),
     (26.71, 525), (26.75, 260), (26.9, 250), (27.1, 255), (27.3, 250), (27.5, 255), (27.64, 575),
     (27.7, 255), (27.9, 245), (28.1, 255), (28.3, 250), (28.5, 245), (28.7, 255), (28.9, 250), (28.94, 300),
     (29.0, 290), (29.07, 750), (29.1, 290)],
]

vs_robertson = [
    [(0.05, 55), (0.13, 103), (0.3, 105), (0.5, 110), (0.8, 118), (1.2, 135), (1.7, 148), (2.0, 157),
     (2.5, 180), (3.0, 188), (3.5, 195), (4.0, 198), (4.5, 200), (5.0, 202), (5.5, 200), (6.0, 198),
     (6.5, 190), (7.0, 180), (7.3, 170), (7.5, 160), (7.7, 148), (7.9, 130), (8.0, 120), (8.1, 140),
     (8.2, 125), (8.3, 150), (8.45, 125), (8.55, 175), (8.7, 235)],
    [(10.0, 265), (10.1, 215), (10.2, 200), (10.35, 205), (10.5, 195), (10.65, 210), (10.8, 200),
     (10.95, 215), (11.1, 225), (11.25, 250), (11.35, 285), (11.45, 270)],
    [(12.54, 200), (12.56, 255), (12.65, 225), (12.75, 270), (12.85, 230), (12.95, 245), (13.05, 210),
     (13.2, 270), (13.35, 235), (13.5, 285), (13.6, 240), (13.75, 260), (13.9, 220), (13.98, 215)],
    [(15.0, 195), (15.1, 210), (15.25, 195), (15.4, 215), (15.55, 205), (15.7, 220), (15.85, 210),
     (16.0, 230), (16.15, 215), (16.3, 235), (16.45, 225)],
    [(17.5, 205), (17.6, 230), (17.7, 215), (17.8, 225), (17.9, 210), (18.0, 230), (18.1, 205), (18.2, 225),
     (18.35, 210), (18.5, 230), (18.6, 215), (18.75, 225), (18.9, 210), (18.98, 220)],
    [(20.03, 215), (20.15, 250), (20.3, 230), (20.45, 255), (20.6, 225), (20.8, 205), (21.0, 195),
     (21.1, 185), (21.3, 200), (21.5, 180), (21.7, 190), (21.9, 175), (22.1, 195), (22.3, 180), (22.5, 205),
     (22.7, 235), (22.9, 195), (23.1, 210), (23.3, 250), (23.5, 240), (23.7, 275), (23.9, 250), (24.1, 225),
     (24.3, 235), (24.5, 215), (24.7, 230), (24.9, 200), (25.1, 215), (25.3, 190), (25.5, 205), (25.7, 235),
     (25.9, 195), (26.03, 260), (26.2, 200), (26.35, 215), (26.5, 205), (26.7, 230), (26.9, 210),
     (27.1, 250), (27.3, 225), (27.5, 245), (27.7, 220), (27.9, 235), (28.1, 215), (28.3, 240), (28.5, 225),
     (28.7, 210), (28.9, 190), (29.0, 215), (29.05, 200)],
]

ic_classes = [
    ("0.00 < I$\\mathregular{_c}$< 1.31", "Gravelly sand"),
    ("1.31 < I$\\mathregular{_c}$< 2.05", "Sands - clean to silty"),
    ("2.05 < I$\\mathregular{_c}$< 2.60", "Sand mixtures"),
    ("2.60 < I$\\mathregular{_c}$< 2.95", "Silt mixtures"),
    ("2.95 < I$\\mathregular{_c}$< 3.60", "Clays"),
    ("3.60 < I$\\mathregular{_c}$< 6.00", "Organic soils - peats"),
]

# ---------------------------------------------------------------- style
sns.set_theme(style="white")
plt.rcParams["font.family"] = ["Liberation Sans", "DejaVu Sans"]
plt.rcParams["mathtext.fontset"] = "custom"
plt.rcParams["mathtext.rm"] = "Liberation Sans"
plt.rcParams["mathtext.it"] = "Liberation Sans:italic"
plt.rcParams["axes.unicode_minus"] = False

W, H = 3022, 1814
TOP, BOT = 140.5, 1653.0
fig = plt.figure(figsize=(W / 100, H / 100), dpi=100)
fig.patch.set_facecolor("white")

TICK_FS = 13.5
TITLE_FS = 15
LEG_FS = 11.5


def to_frame(segments):
    rows = [(k, d, v) for k, seg in enumerate(segments) for d, v in seg]
    return pd.DataFrame(rows, columns=["seg", "depth", "value"])


def draw(ax, segments, color, lw=1.3, ls="-"):
    sns.lineplot(data=to_frame(segments), x="value", y="depth", units="seg", estimator=None,
                 sort=False, orient="y", color=color, linewidth=lw, linestyle=ls, ax=ax, legend=False)
    ax.set_xlabel("")
    ax.set_ylabel("")


def top_axis(ax):
    ax.xaxis.set_ticks_position("top")
    ax.xaxis.set_label_position("top")
    ax.tick_params(axis="x", which="both", direction="out", length=5, width=1.0, pad=5,
                   labelsize=TICK_FS, colors="black", top=True, bottom=False, labeltop=True, labelbottom=False)


def panel(x0, x1, lim, major, minor=None, grid=None, first=False):
    ax = fig.add_axes([x0 / W, 1 - BOT / H, (x1 - x0) / W, (BOT - TOP) / H])
    ax.set_facecolor("none")
    ax.set_xlim(*lim)
    ax.set_ylim(30, 0)
    ax.xaxis.set_major_locator(MultipleLocator(major))
    if minor:
        ax.xaxis.set_minor_locator(MultipleLocator(minor))
    top_axis(ax)
    ax.yaxis.set_major_locator(MultipleLocator(2))
    if first:
        ax.tick_params(axis="y", direction="out", length=9, width=1.0, pad=3, labelsize=TICK_FS,
                       left=True, labelleft=True)
    else:
        ax.tick_params(axis="y", left=False, labelleft=False)
    ax.grid(False)
    step = grid if grid else major
    g = lim[0] + step
    while g < lim[1] - 1e-9:
        ax.axvline(g, color="#1a1a1a", lw=0.9, zorder=0.5)
        g += step
    for d in range(2, 30, 2):
        ax.axhline(d, color="#1a1a1a", lw=0.9, zorder=0.5)
    for side in ("left", "right"):
        ax.spines[side].set_color("black")
        ax.spines[side].set_linewidth(1.3)
    ax.spines["top"].set_color("#3c3c3c")
    ax.spines["top"].set_linewidth(2.6)
    ax.spines["bottom"].set_color("black")
    ax.spines["bottom"].set_linewidth(1.8)
    return ax


def ftext(x, y, s, size=LEG_FS, ha="left", va="center", **kw):
    fig.text(x / W, 1 - y / H, s, fontsize=size, ha=ha, va=va, color="black", **kw)


def key(x0, x1, y, color, ls="-", lw=2.6):
    fig.add_artist(Line2D([x0 / W, x1 / W], [1 - y / H, 1 - y / H], color=color, lw=lw, ls=ls,
                          solid_capstyle="butt"))


BLUE, RED = "#0000ff", "#ff0000"
DKGREEN, GREEN = "#006633", "#009933"
ORANGE, MAGENTA = "#ff6600", "#ff00ff"

# ---------------------------------------------------------------- qc / fs
ax_qc = panel(65, 442, (0, 40), 10, 5, first=True)
ax_fs = ax_qc.twiny()
top_axis(ax_qc)
ax_fs.set_facecolor("none")
for g in (0.25, 0.75):
    ax_fs.axvline(g, color="#7a7a7a", lw=2.0, zorder=0.4)
draw(ax_fs, fs_mpa, RED, lw=1.5, ls=(0, (1.0, 1.0)))
draw(ax_qc, qc_mpa, BLUE, lw=1.5)
ax_qc.set_xlim(0, 40)
ax_fs.set_xlim(0, 1)
ax_fs.set_ylim(30, 0)
ax_fs.xaxis.set_ticks_position("bottom")
ax_fs.xaxis.set_label_position("bottom")
ax_fs.xaxis.set_major_locator(MultipleLocator(0.2))
ax_fs.xaxis.set_minor_locator(MultipleLocator(0.1))
ax_fs.xaxis.set_major_formatter(lambda v, p: f"{v:g}")
ax_fs.tick_params(axis="x", which="major", direction="out", length=11, width=1.0, pad=6,
                  labelsize=TICK_FS, bottom=True, top=False, labelbottom=True, labeltop=False)
ax_fs.tick_params(axis="x", which="minor", direction="out", length=8, width=1.0, bottom=True, top=False)
ax_fs.tick_params(axis="y", left=False, right=False, labelleft=False, labelright=False)
for s in ax_fs.spines.values():
    s.set_visible(False)
ax_qc.set_zorder(3)
ax_fs.set_zorder(2)
ax_qc.patch.set_visible(False)

# ---------------------------------------------------------------- remaining panels
ax_u2 = panel(482, 634, (-1, 5), 1, 0.5)
draw(ax_u2, u2_mpa, DKGREEN, lw=1.3)
ax_u2.set_xlim(-1, 5)

ax_bq = panel(667, 821, (-2, 2), 1)
draw(ax_bq, bq, "#6699ff", lw=1.2)
ax_bq.set_xlim(-2, 2)

ax_fr = panel(857, 1009, (0, 12), 4, 2)
draw(ax_fr, fr, "#ff6633", lw=1.3)
ax_fr.set_xlim(0, 12)

ax_ic = panel(1039, 1266, (0, 6), 1)
draw(ax_ic, ic, MAGENTA, lw=1.3)
ax_ic.set_xlim(0, 6)

ax_uw = panel(1289.5, 1455, (14, 24), 2, 1)
draw(ax_uw, unit_weight, "#66ffcc", lw=1.4)
ax_uw.set_xlim(14, 24)

ax_su = panel(1481.5, 1784.5, (0, 400), 100, 50, grid=50)
draw(ax_su, su_nk15, ORANGE, lw=1.4)
draw(ax_su, su_nk20, DKGREEN, lw=1.4)
ax_su.set_xlim(0, 400)

ax_sh = panel(1818, 2045, (0, 3000), 1000, 500)
draw(ax_sh, sigma_v, ORANGE, lw=2.0)
draw(ax_sh, sigma_p, BLUE, lw=1.5)
ax_sh.set_xlim(0, 3000)

ax_dr = panel(2078, 2381, (0, 120), 20, 10)
draw(ax_dr, dr, RED, lw=1.4)
ax_dr.set_xlim(0, 120)

ax_phi = panel(2413, 2640, (20, 50), 5, 2.5)
draw(ax_phi, phi_robertson, MAGENTA, lw=1.3)
draw(ax_phi, phi_lunne, ORANGE, lw=1.3)
draw(ax_phi, phi_kulhawy, GREEN, lw=1.3)
ax_phi.set_xlim(20, 50)

ax_vs = panel(2671, 2973, (0, 1000), 200, 100, grid=100)
draw(ax_vs, vs_robertson, GREEN, lw=1.4)
draw(ax_vs, vs_baldi, BLUE, lw=1.4)
ax_vs.set_xlim(0, 1000)

# ---------------------------------------------------------------- headings
ftext(253, 40, "q$\\mathregular{_c}$ (MPa)", size=TITLE_FS, ha="center")
ftext(558, 40, "u$\\mathregular{_2}$ (MPa)", size=TITLE_FS, ha="center")
ftext(744, 40, "B$\\mathregular{_q}$ (-)", size=TITLE_FS, ha="center")
ftext(933, 40, "F$\\mathregular{_r}$ (-)", size=TITLE_FS, ha="center")
ftext(1152, 40, "I$\\mathregular{_c}$ (-)", size=TITLE_FS, ha="center")
ftext(1372, 28, "UNIT WEIGHT", size=TITLE_FS, ha="center")
ftext(1372, 54, "(kN/m$\\mathregular{^3}$)", size=TITLE_FS, ha="center")
ftext(1633, 28, "UNDRAINED SHEAR STRENGTH", size=TITLE_FS, ha="center")
ftext(1633, 54, "S$\\mathregular{_u}$ (kPa)", size=TITLE_FS, ha="center")
ftext(1931, 30, "STRESS HISTORY", size=TITLE_FS, ha="center")
ftext(1931, 57, "(kPa)", size=TITLE_FS, ha="center")
ftext(2229, 28, "RELATIVE DENSITY", size=TITLE_FS, ha="center")
ftext(2229, 54, "D$\\mathregular{_r}$ (%)", size=TITLE_FS, ha="center")
ftext(2527, 18, "ANGLE OF", size=TITLE_FS, ha="center")
ftext(2527, 43, "INTERNAL FRICTION", size=TITLE_FS, ha="center")
ftext(2527, 69, "\u03c6' (\u00b0)", size=TITLE_FS, ha="center")
ftext(2822, 18, "SHEAR WAVE", size=TITLE_FS, ha="center")
ftext(2822, 43, "VELOCITY V$\\mathregular{_s}$", size=TITLE_FS, ha="center")
ftext(2822, 69, "(m/s)", size=TITLE_FS, ha="center")
ftext(253, 1728, "f$\\mathregular{_s}$ (MPa)", size=TITLE_FS, ha="center")

# ---------------------------------------------------------------- keys
key(93, 110, 1765, BLUE)
ftext(127, 1764, "q$\\mathregular{_C}$", size=12.5)
key(93, 110, 1798, RED, ls=(0, (1.0, 0.8)), lw=1.8)
ftext(127, 1797, "f$\\mathregular{_S}$", size=12.5)

key(500, 516, 1679, DKGREEN)
ftext(533, 1679, "u$\\mathregular{_2}$")
key(682, 699, 1679, "#6699ff")
ftext(716, 1679, "B$\\mathregular{_q}$")
key(842, 858, 1686, "#ff6633")
ftext(929, 1686, "F$\\mathregular{_r}$: normalized\nfriction ratio", ha="center", linespacing=1.35)

key(1014, 1028, 1677, MAGENTA)
ftext(1040, 1677, "I$\\mathregular{_C}$ : Robertson & Wride (1998)")
for i, (rng, name) in enumerate(ic_classes):
    y = 1709 + i * 18.9
    ftext(1006, y, rng, size=10.5)
    ftext(1129, y, name, size=10.5)

key(1280, 1296, 1676, "#66ffcc")
ftext(1313, 1676, "Robertson & Cabal (2010)")

key(1537, 1554, 1679, ORANGE)
ftext(1571, 1679, "N$\\mathregular{_k}$=15")
key(1537, 1554, 1708, DKGREEN)
ftext(1571, 1708, "N$\\mathregular{_k}$=20")

key(1795, 1811, 1692, BLUE)
ftext(1829, 1682, "\u03c3'$\\mathregular{_p}$ : Preconsolidation Pressure")
ftext(1829, 1707, "(Robertson, 2008)")
key(1795, 1811, 1737, ORANGE)
ftext(1829, 1736, "\u03c3'$\\mathregular{_v}$ : Vertical effective stress")

key(2066, 2082, 1690, RED)
ftext(2100, 1680, "D$\\mathregular{_r}$ : Jamiolkowsky et al. (1988)")
ftext(2100, 1700, "K$\\mathregular{_0}$: Lunne & Christophersen (1983)")

key(2378, 2395, 1680, MAGENTA)
ftext(2412, 1680, "Robertson & Campanella (1983)")
key(2378, 2395, 1705, ORANGE)
ftext(2412, 1705, "Lunne & Christophersen (1983)")
key(2378, 2395, 1731, GREEN)
ftext(2412, 1731, "Kulhawy & Mayne (1990)")

key(2660, 2676, 1680, BLUE)
ftext(2693, 1680, "Mayne & Rix (1995), Baldi (1989)")
key(2660, 2676, 1705, GREEN)
ftext(2693, 1705, "Mayne & Rix (1995), Robertson (2009)")

ftext(2801, 1753, "FIGURE 6", size=16, ha="center")
ftext(2821, 1793, "CPT DATA INTERPRETATION", size=16.5, ha="center")

fig.savefig("out.png", dpi=100, facecolor="white")
